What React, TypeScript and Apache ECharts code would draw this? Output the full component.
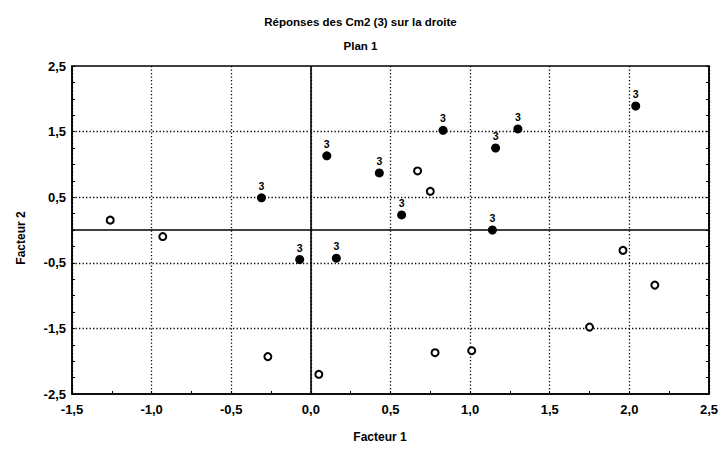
import React, { useEffect, useRef } from "react";
import * as echarts from "echarts";

// Individuals answering "3" (filled, labelled)
const filledX = [-0.31, 0.1, 0.43, 0.83, 1.16, 1.3, 2.04, 0.57, 1.14, -0.07, 0.16];
const filledY = [0.49, 1.13, 0.87, 1.52, 1.25, 1.54, 1.89, 0.23, 0.0, -0.45, -0.43];
// Other individuals (open circles)
const openX = [-1.26, -0.93, 0.67, 0.75, 1.96, 2.16, 1.75, 0.78, 1.01, -0.27, 0.05];
const openY = [0.15, -0.1, 0.9, 0.59, -0.31, -0.84, -1.48, -1.87, -1.84, -1.93, -2.2];
const pointLabel = "3";

const xMin = -1.5;
const xMax = 2.5;
const yMin = -2.5;
const yMax = 2.5;
const yGridValues = [-1.5, -0.5, 0.5, 1.5];
const yLabelValues = [-2.5, -1.5, -0.5, 0.5, 1.5, 2.5];

const titleText = "Réponses des Cm2 (3) sur la droite";
const subtitleText = "Plan 1";
const xName = "Facteur 1";
const yName = "Facteur 2";

const fmt = (v: number) => v.toFixed(1).replace(".", ",");
const FONT = "'Liberation Sans', Arial, sans-serif";

export default function App() {
  const ref = useRef<HTMLDivElement>(null);
  useEffect(() => {
    if (!ref.current) return;
    const chart = echarts.init(ref.current, undefined, { renderer: "svg" });
    const dotted = { color: "#000", width: 1.3, type: [1.3, 2.2] as any };
    const tickStyle = { color: "#000", width: 1 };
    const labelStyle = {
      color: "#000",
      fontSize: 13,
      fontWeight: "bold",
      fontFamily: FONT,
    };
    chart.setOption({
      animation: false,
      backgroundColor: "#fff",
      textStyle: { fontFamily: FONT },
      title: [
        {
          text: titleText,
          left: "center",
          top: 11,
          textStyle: { fontSize: 11.5, fontWeight: "bold", color: "#000", fontFamily: FONT },
        },
        {
          text: subtitleText,
          left: "center",
          top: 35,
          textStyle: { fontSize: 11.5, fontWeight: "bold", color: "#000", fontFamily: FONT },
        },
      ],
      graphic: [
        {
          type: "text",
          x: 380,
          y: 437,
          style: {
            text: xName,
            fill: "#000",
            font: `bold 12px ${FONT}`,
            textAlign: "center",
            textVerticalAlign: "middle",
          },
        },
        {
          type: "text",
          x: 21,
          y: 238,
          rotation: Math.PI / 2,
          style: {
            text: yName,
            fill: "#000",
            font: `bold 12px ${FONT}`,
            textAlign: "center",
            textVerticalAlign: "middle",
          },
        },
      ],
      grid: {
        left: 72,
        right: 11,
        top: 66,
        bottom: 56,
        show: true,
        borderColor: "#000",
        borderWidth: 1.5,
        backgroundColor: "transparent",
      },
      xAxis: {
        type: "value",
        min: xMin,
        max: xMax,
        interval: 0.5,
        axisLine: { show: true, onZero: false, lineStyle: { color: "#000", width: 1.5 } },
        axisTick: { show: true, inside: true, length: 3, lineStyle: tickStyle },
        minorTick: { show: true, splitNumber: 2, length: 3, lineStyle: tickStyle },
        splitLine: { show: true, lineStyle: dotted },
        axisLabel: {
          ...labelStyle,
          formatter: (v: number) => fmt(v),
          margin: 9,
        },
      },
      yAxis: [
        {
          type: "value",
          min: yMin,
          max: yMax,
          interval: 0.5,
          axisLine: { show: true, onZero: false, lineStyle: { color: "#000", width: 1.5 } },
          axisTick: { show: true, inside: true, length: 3, lineStyle: tickStyle },
          minorTick: { show: true, splitNumber: 2, length: 3, lineStyle: tickStyle },
          splitLine: { show: false },
          axisLabel: {
            ...labelStyle,
            formatter: (v: number) =>
              yLabelValues.some((t) => Math.abs(t - v) < 1e-6) ? fmt(v) : "",
            margin: 6,
          },
        },
        {
          type: "value",
          position: "right",
          min: yMin,
          max: yMax,
          interval: 0.5,
          axisLine: { show: true, onZero: false, lineStyle: { color: "#000", width: 1.5 } },
          axisTick: { show: true, inside: true, length: 3, lineStyle: tickStyle },
          minorTick: { show: true, splitNumber: 2, length: 3, lineStyle: tickStyle },
          splitLine: { show: false },
          axisLabel: { show: false },
        },
      ],
      series: [
        {
          type: "scatter",
          data: openX.map((x, i) => [x, openY[i]]),
          symbol: "circle",
          symbolSize: 7,
          itemStyle: { color: "#fff", borderColor: "#000", borderWidth: 2, opacity: 1 },
          z: 3,
          markLine: {
            silent: true,
            symbol: "none",
            label: { show: false },
            lineStyle: dotted,
            data: yGridValues.map((v) => ({ yAxis: v })),
            z: 1,
          },
        },
        {
          type: "scatter",
          data: filledX.map((x, i) => [x, filledY[i]]),
          symbol: "circle",
          symbolSize: 9,
          itemStyle: { color: "#000", opacity: 1 },
          z: 4,
          label: {
            show: true,
            formatter: () => pointLabel,
            position: "top",
            distance: 2,
            color: "#000",
            fontSize: 10.5,
            fontWeight: "bold",
            fontFamily: FONT,
          },
          markLine: {
            silent: true,
            symbol: "none",
            label: { show: false },
            lineStyle: { color: "#000", width: 1.6, type: "solid" },
            data: [{ xAxis: 0 }, { yAxis: 0 }],
            z: 2,
          },
        },
      ],
    });
    return () => chart.dispose();
  }, []);
  return <div ref={ref} style={{ width: 721, height: 450, position: "fixed", left: 0, top: 0 }} />;
}
